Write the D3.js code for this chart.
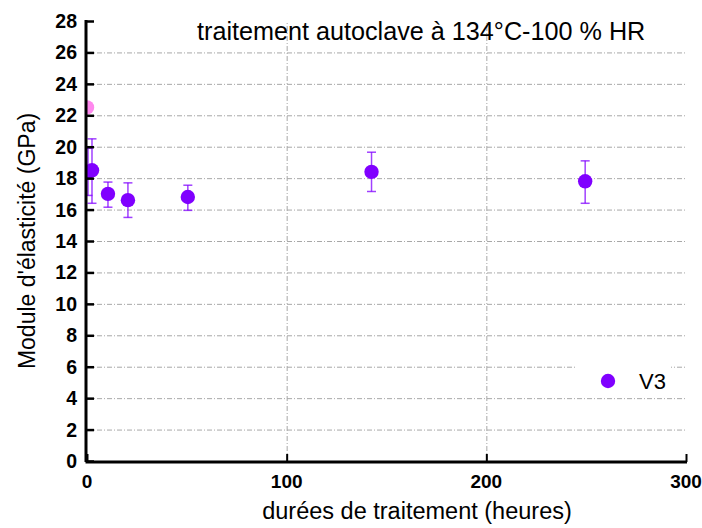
<!DOCTYPE html>
<html>
<head>
<meta charset="utf-8">
<script src="https://cdn.jsdelivr.net/npm/d3@7"></script>
<style>
body { margin: 0; background: #fff; }
text { font-family: "Liberation Sans", Arial, sans-serif; }
</style>
</head>
<body>
<div id="chart"></div>
<script>
// DATA
var refHours = [0];
var refModulus = [22.5];

var v3Hours = [0, 2, 10, 20, 50, 142, 249];
var v3Modulus = [18.4, 18.5, 17.0, 16.6, 16.8, 18.4, 17.8];
var v3Low = [16.9, 16.4, 16.15, 15.5, 15.95, 17.15, 16.4];
var v3High = [19.9, 20.5, 17.75, 17.7, 17.55, 19.65, 19.1];

var xTicks = [0, 100, 200, 300];
var yTicks = d3.range(0, 29, 2);

var title = "traitement autoclave à 134°C-100 % HR";
var xLabel = "durées de traitement (heures)";
var yLabel = "Module d'élasticité (GPa)";
var seriesName = "V3";

// LAYOUT
var WIDTH = 702, HEIGHT = 528;
var LEFT = 87, RIGHT = 686, TOP = 21, BOTTOM = 461;
var PURPLE = "#8000ff", PINK = "#ff88ee";

var x = d3.scaleLinear().domain([0, 300]).range([LEFT, RIGHT]);
var y = d3.scaleLinear().domain([0, 28]).range([BOTTOM, TOP]);

var svg = d3.select("#chart").append("svg")
    .attr("width", WIDTH)
    .attr("height", HEIGHT);

svg.append("defs").append("clipPath").attr("id", "plot")
    .append("rect")
    .attr("x", LEFT).attr("y", 0)
    .attr("width", RIGHT - LEFT + 10).attr("height", BOTTOM);

// grid
var grid = svg.append("g")
    .attr("stroke", "#a8a8a8")
    .attr("stroke-width", 1)
    .attr("stroke-dasharray", "5,2,1,2");

grid.selectAll(".hg")
    .data(yTicks.filter(function(d) { return d > 0 && d < 28; }))
    .enter().append("line")
    .attr("x1", LEFT).attr("x2", RIGHT)
    .attr("y1", function(d) { return y(d) + 0.5; })
    .attr("y2", function(d) { return y(d) + 0.5; });

grid.selectAll(".vg")
    .data([100, 200])
    .enter().append("line")
    .attr("x1", function(d) { return x(d) + 0.5; })
    .attr("x2", function(d) { return x(d) + 0.5; })
    .attr("y1", BOTTOM).attr("y2", TOP);

// title
svg.append("text")
    .attr("x", 197).attr("y", 40)
    .attr("font-size", 25.2)
    .text(title);

// legend
svg.append("rect")
    .attr("x", 577).attr("y", 364)
    .attr("width", 94).attr("height", 30)
    .attr("fill", "#fff");
svg.append("circle")
    .attr("cx", 608).attr("cy", 381).attr("r", 7.2)
    .attr("fill", PURPLE);
svg.append("text")
    .attr("x", 639).attr("y", 389)
    .attr("font-size", 22)
    .text(seriesName);

// points
var plot = svg.append("g").attr("clip-path", "url(#plot)");

var v3 = v3Hours.map(function(h, i) {
    return { h: h, m: v3Modulus[i], lo: v3Low[i], hi: v3High[i] };
});

var err = plot.selectAll(".err")
    .data(v3)
    .enter().append("g")
    .attr("stroke", PURPLE)
    .attr("stroke-opacity", 0.75)
    .attr("stroke-width", 1.5);

err.append("line")
    .attr("x1", function(d) { return x(d.h) + 1; })
    .attr("x2", function(d) { return x(d.h) + 1; })
    .attr("y1", function(d) { return y(d.lo); })
    .attr("y2", function(d) { return y(d.hi); });
err.append("line")
    .attr("x1", function(d) { return x(d.h) + 1 - 4.5; })
    .attr("x2", function(d) { return x(d.h) + 1 + 4.5; })
    .attr("y1", function(d) { return y(d.lo); })
    .attr("y2", function(d) { return y(d.lo); });
err.append("line")
    .attr("x1", function(d) { return x(d.h) + 1 - 4.5; })
    .attr("x2", function(d) { return x(d.h) + 1 + 4.5; })
    .attr("y1", function(d) { return y(d.hi); })
    .attr("y2", function(d) { return y(d.hi); });

plot.selectAll(".ref")
    .data(refHours)
    .enter().append("circle")
    .attr("cx", function(d) { return x(d); })
    .attr("cy", function(d, i) { return y(refModulus[i]); })
    .attr("r", 7.2)
    .attr("fill", PINK);

plot.selectAll(".pt")
    .data(v3)
    .enter().append("circle")
    .attr("cx", function(d) { return x(d.h) + 1; })
    .attr("cy", function(d) { return y(d.m); })
    .attr("r", 7.2)
    .attr("fill", PURPLE);

// axes
var xAxis = svg.append("g")
    .attr("transform", "translate(0," + (BOTTOM + 1) + ")");
xAxis.call(d3.axisTop(x).tickValues(d3.range(0, 301, 100 / 3)).tickSize(5).tickFormat(""))
xAxis.call(d3.axisTop(x).tickValues(xTicks).tickSize(8).tickFormat(""));
xAxis.selectAll(".domain").remove();
xAxis.selectAll("line").attr("stroke", "#000").attr("stroke-width", 2);
xAxis.append("line")
    .attr("x1", LEFT - 1.5).attr("x2", RIGHT + 1)
    .attr("stroke", "#000").attr("stroke-width", 3);

svg.selectAll(".xl")
    .data(xTicks)
    .enter().append("text")
    .attr("x", function(d) { return x(d); })
    .attr("y", 488)
    .attr("text-anchor", "middle")
    .attr("font-size", 19)
    .attr("font-weight", "bold")
    .text(function(d) { return d; });

var yAxis = svg.append("g")
    .attr("transform", "translate(" + (LEFT - 1) + ",0)");
yAxis.call(d3.axisRight(y).tickValues(d3.range(1, 28, 2)).tickSize(5).tickFormat(""));
yAxis.call(d3.axisRight(y).tickValues(yTicks).tickSize(8).tickFormat(""));
yAxis.selectAll(".domain").remove();
yAxis.selectAll("line").attr("stroke", "#000").attr("stroke-width", 2.5);
yAxis.append("line")
    .attr("y1", TOP - 1).attr("y2", BOTTOM + 1)
    .attr("stroke", "#000").attr("stroke-width", 3);

svg.selectAll(".yl")
    .data(yTicks)
    .enter().append("text")
    .attr("x", 77)
    .attr("y", function(d) { return y(d) + 7; })
    .attr("text-anchor", "end")
    .attr("font-size", 19.5)
    .attr("font-weight", "bold")
    .text(function(d) { return d; });

// axis titles
svg.append("text")
    .attr("x", 417).attr("y", 519)
    .attr("text-anchor", "middle")
    .attr("font-size", 23.5)
    .text(xLabel);

svg.append("text")
    .attr("transform", "translate(35,241) rotate(-90)")
    .attr("text-anchor", "middle")
    .attr("font-size", 23)
    .text(yLabel);
</script>
</body>
</html>
